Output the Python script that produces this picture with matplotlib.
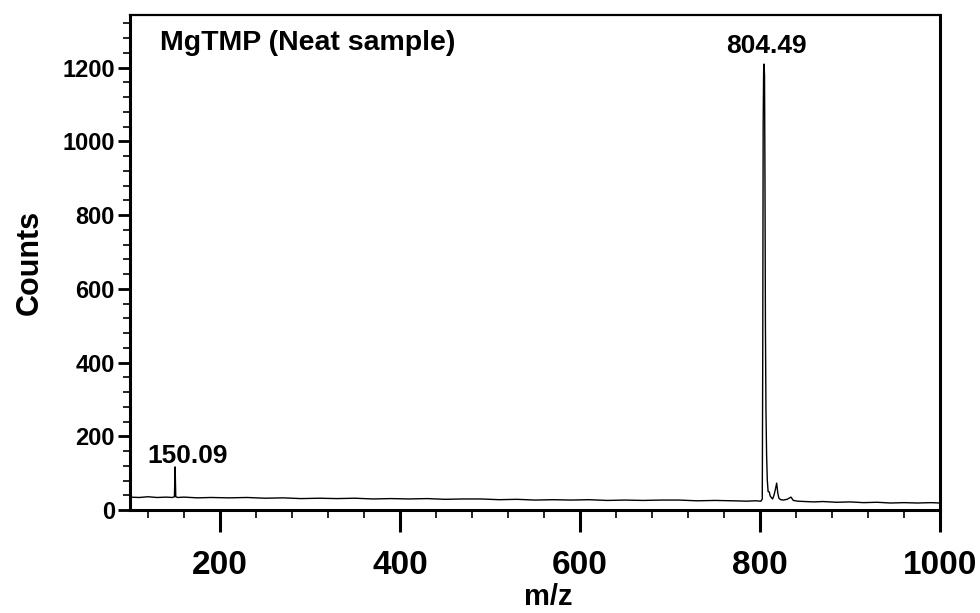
import matplotlib
matplotlib.use('Agg')
import matplotlib.pyplot as plt
from matplotlib.ticker import MultipleLocator

plt.rcParams['font.family'] = ['Liberation Sans', 'DejaVu Sans']
plt.rcParams['font.weight'] = 'bold'

# spectrum (m/z, counts)
mz = [100, 110, 120, 130, 140, 147, 149.3, 150.09, 150.8, 153, 160, 175, 190,
      210, 230, 250, 270, 290, 310, 330, 350, 370, 390, 410, 430, 450, 470,
      490, 510, 530, 550, 570, 590, 610, 630, 650, 670, 690, 710, 730, 750,
      770, 785, 795, 801, 802.5, 803.0, 803.5, 804.0, 804.49, 805.0, 805.5,
      806.0, 806.6, 807.3, 808.1, 809.0, 810.3, 811.3, 812.5, 814, 815.5, 817,
      818.5, 819.8, 821, 823, 826, 830, 834.4, 837, 842, 850, 860, 870, 885,
      900, 915, 930, 945, 960, 975, 990, 1000]
counts = [35, 34, 36, 34, 35, 34, 36, 117, 36, 34, 35, 33, 34,
          33, 34, 32, 33, 31, 32, 31, 32, 30, 31, 30, 31, 29, 30,
          30, 28, 29, 27, 28, 27, 28, 26, 27, 26, 27, 27, 25, 26,
          25, 24, 25, 24, 30, 400, 1050, 1190, 1210, 1180, 900,
          500, 270, 150, 80, 50, 49, 38, 34, 30, 40, 55,
          73, 45, 32, 28, 27, 29, 35, 26, 24, 23, 22, 23, 21,
          22, 20, 21, 19, 20, 19, 20, 19]

peak_mz = [150.09, 804.49]
peak_counts = [117, 1210]
peak_text = ['150.09', '804.49']
peak_offsets = [(9, 3), (2, 8)]

fig = plt.figure(figsize=(9.8, 6.13), dpi=100)
ax = fig.add_axes([0.1327, 0.168, 0.8265, 0.8075])
ax.plot(mz, counts, color='black', lw=1.0)

for x, y, t, off in zip(peak_mz, peak_counts, peak_text, peak_offsets):
    ax.annotate(t, (x, y), xytext=off, textcoords='offset points',
                ha='center', va='baseline', fontsize=19, fontweight='bold')

ax.text(0.037, 0.93, 'MgTMP (Neat sample)', transform=ax.transAxes,
        fontsize=20.5, fontweight='bold', va='baseline')

ax.set_xlim(100, 1000)
ax.set_ylim(0, 1343)
ax.set_xticks([200, 400, 600, 800, 1000])
ax.set_yticks([0, 200, 400, 600, 800, 1000, 1200])
ax.xaxis.set_minor_locator(MultipleLocator(40))
ax.yaxis.set_minor_locator(MultipleLocator(40))

ax.tick_params(axis='x', which='major', direction='out', length=16, width=2.2,
               labelsize=24, pad=13, top=False)
ax.tick_params(axis='x', which='minor', direction='out', length=6, width=1.2, top=False)
ax.tick_params(axis='y', which='major', direction='out', length=9, width=2,
               labelsize=17, pad=2, right=False)
ax.tick_params(axis='y', which='minor', direction='out', length=5, width=1.2, right=False)
for lab in ax.get_xticklabels() + ax.get_yticklabels():
    lab.set_fontweight('bold')

for side in ['left', 'right', 'bottom']:
    ax.spines[side].set_linewidth(2.2)
ax.spines['top'].set_linewidth(1.6)

ax.set_xlabel('m/z', fontsize=21, fontweight='bold')
ax.xaxis.set_label_coords(0.516, -0.148)
ax.set_ylabel('Counts', fontsize=22, fontweight='bold')
ax.yaxis.set_label_coords(-0.105, 0.5)

fig.savefig('out.png', dpi=100)
plt.close(fig)
